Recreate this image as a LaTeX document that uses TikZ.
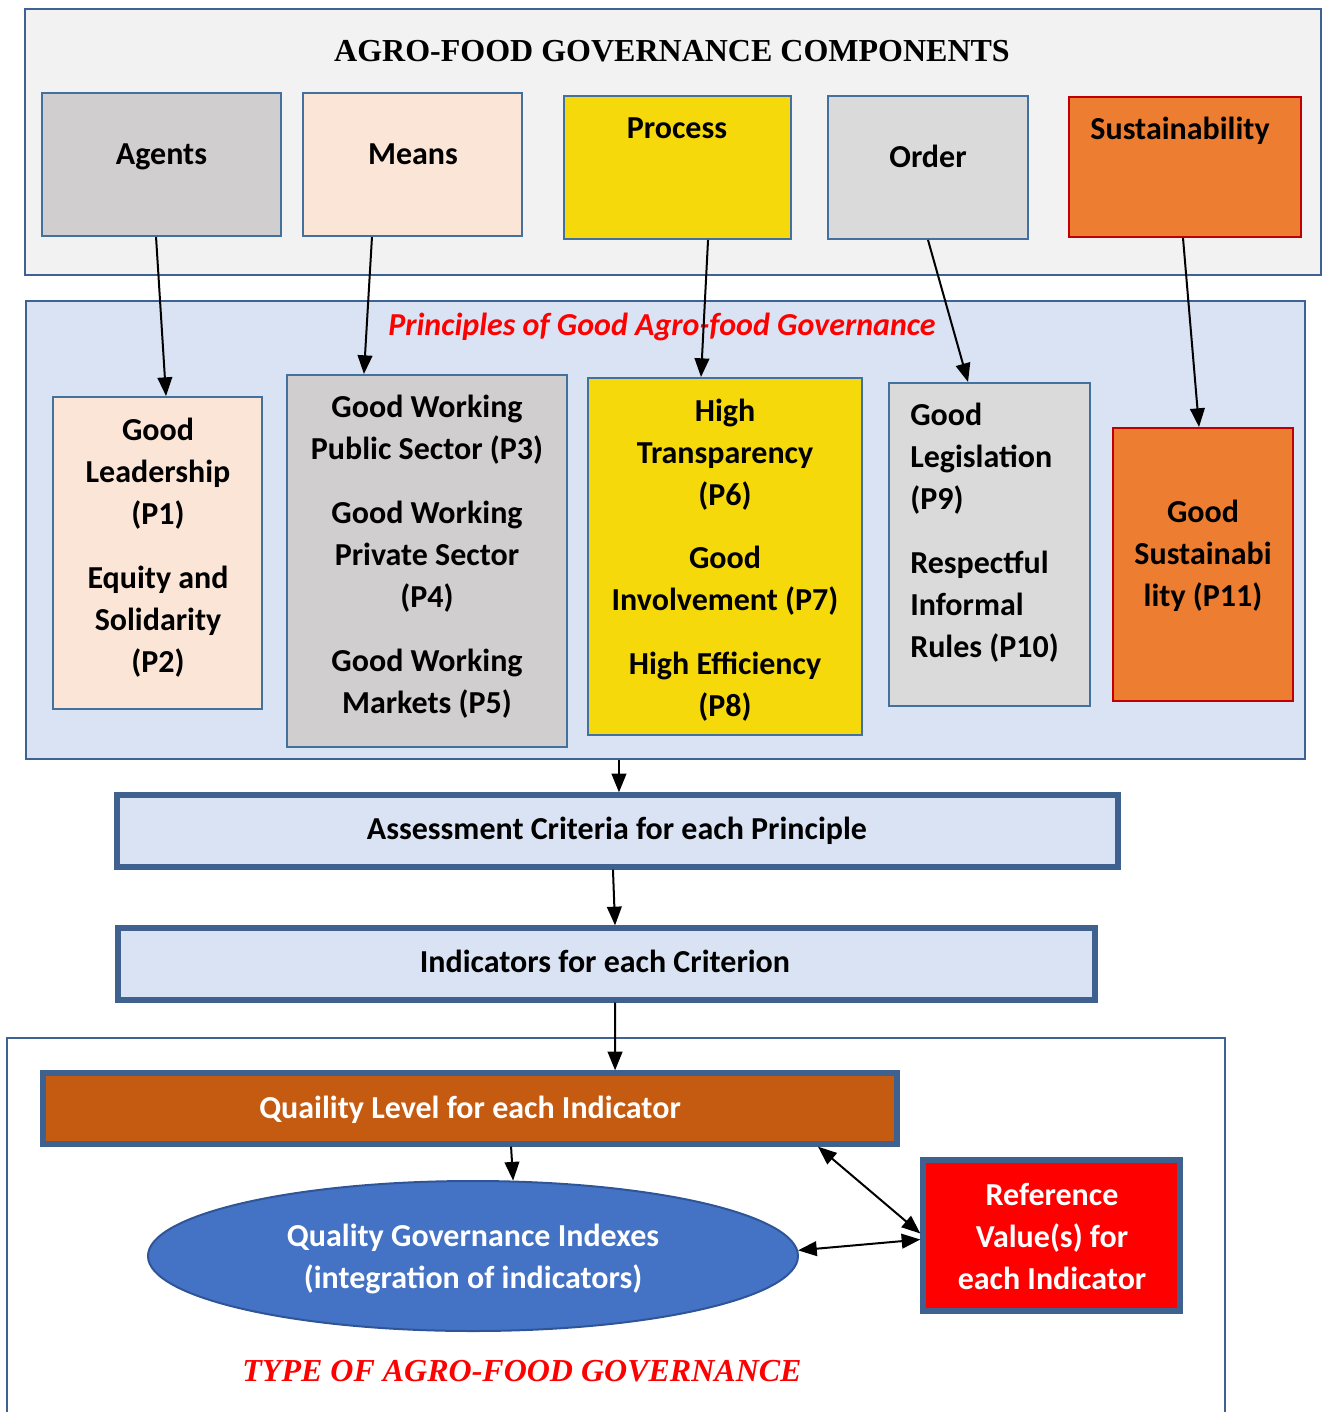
\documentclass[tikz,border=0pt]{standalone}
\usepackage{fontspec}
\setmainfont{Carlito}
\newfontfamily\titlefont{Liberation Serif}
\usetikzlibrary{arrows.meta,fit,shapes.geometric}

\definecolor{panelgray}{HTML}{F2F2F2}
\definecolor{panelblue}{HTML}{DAE3F3}
\definecolor{boxline}{HTML}{41719C}
\definecolor{panelline}{HTML}{3F6294}
\definecolor{thickline}{HTML}{3E6190}
\definecolor{agentgray}{HTML}{D0CECE}
\definecolor{peach}{HTML}{FBE5D6}
\definecolor{sunyellow}{HTML}{F5D90B}
\definecolor{lightgray}{HTML}{DADADA}
\definecolor{sustorange}{HTML}{ED7D31}
\definecolor{darkred}{HTML}{C00000}
\definecolor{rust}{HTML}{C55A11}
\definecolor{ellblue}{HTML}{4472C4}
\definecolor{ellline}{HTML}{2F5597}
\definecolor{refred}{HTML}{FF0000}

\tikzset{
  panel/.style={draw=panelline, line width=1.8pt, inner sep=0pt},
  box/.style={draw=boxline, line width=1.5pt, inner sep=0pt},
  thickbox/.style={draw=thickline, line width=4pt, inner sep=0pt},
  txt/.style={inner sep=0pt, align=center},
  conn/.style={line width=1.5pt, -{Triangle[length=14pt,width=11pt]}},
  biconn/.style={line width=1.5pt, {Triangle[length=14pt,width=11pt]}-{Triangle[length=14pt,width=11pt]}},
}

\begin{document}
\begin{tikzpicture}[x=0.75pt, y=-0.75pt, font=\fontsize{24}{31.5}\selectfont\bfseries]
\useasboundingbox (0,0) rectangle (1329,1412);

% ---- Components panel ----
\node[panel, fill=panelgray, fit={(25,9) (1321,275)}] (comp) {};
\node[txt, anchor=base, font=\fontsize{24}{28}\selectfont\titlefont\bfseries] (compT) at (672,62) {AGRO-FOOD GOVERNANCE COMPONENTS};

\node[box, fill=agentgray, fit={(42,93) (281,236)}] (agents) {};
\node[txt, anchor=base] (agentsT) at (161.5,165) {Agents};
\node[box, fill=peach, fit={(303,93) (522,236)}] (means) {};
\node[txt, anchor=base] (meansT) at (413,165) {Means};
\node[box, fill=sunyellow, fit={(564,96) (791,239)}] (process) {};
\node[txt, anchor=base] (processT) at (677,139) {Process};
\node[box, fill=lightgray, fit={(828,96) (1028,239)}] (order) {};
\node[txt, anchor=base] (orderT) at (928,168) {Order};
\node[box, draw=darkred, fill=sustorange, fit={(1069,97) (1301,237)}] (sust) {};
\node[txt, anchor=base] (sustT) at (1180,140) {Sustainability};

% ---- Principles panel ----
\node[panel, fill=panelblue, fit={(26,301) (1305,759)}] (princ) {};
\node[txt, anchor=base, text=red, font=\fontsize{24}{28}\selectfont\bfseries\itshape] (princT) at (662,335) {Principles of Good Agro-food Governance};

\node[box, fill=peach, fit={(53,397) (262,709)}] (p1) {};
\node[txt] (p1T) at (158,548) {Good\\Leadership\\(P1)\\[16.5pt]Equity and\\Solidarity\\(P2)};
\node[box, fill=agentgray, fit={(287,375) (567,747)}] (p3) {};
\node[txt] (p3T) at (427,557) {Good Working\\Public Sector (P3)\\[16.5pt]Good Working\\Private Sector\\(P4)\\[16.5pt]Good Working\\Markets (P5)};
\node[box, fill=sunyellow, fit={(588,378) (862,735)}] (p6) {};
\node[txt] (p6T) at (725,560.5) {High\\Transparency\\(P6)\\[16pt]Good\\Involvement (P7)\\[16.5pt]High Efficiency\\(P8)};
\node[box, fill=lightgray, fit={(889,383) (1090,706)}] (p9) {};
\node[txt, align=left, anchor=west] (p9T) at (910,533) {Good\\Legislation\\(P9)\\[16.5pt]Respectful\\Informal\\Rules (P10)};
\node[box, draw=darkred, fill=sustorange, fit={(1113,428) (1293,701)}] (p11) {};
\node[txt] (p11T) at (1203,556) {Good\\Sustainabi\\lity (P11)};

% ---- Assessment chain ----
\node[thickbox, fill=panelblue, fit={(117,795) (1118,867)}] (assess) {};
\node[txt, anchor=base] (assessT) at (617,839) {Assessment Criteria for each Principle};
\node[thickbox, fill=panelblue, fit={(118,928) (1095,1000)}] (indic) {};
\node[txt, anchor=base] (indicT) at (605,972) {Indicators for each Criterion};

% ---- Governance type frame ----
\draw[draw=panelline, line width=1.2pt] (7,1440) -- (7,1038) -- (1225,1038) -- (1225,1440);
\node[thickbox, fill=rust, fit={(43,1073) (897,1144)}] (quality) {};
\node[txt, anchor=base, text=white] (qualityT) at (470,1118) {Quaility Level for each Indicator};
\node[ellipse, draw=ellline, line width=1.5pt, fill=ellblue, minimum width=650*0.75pt, minimum height=150*0.75pt, inner sep=0pt] (ell) at (473,1256) {};
\node[txt, text=white] (ellT) at (473,1259) {Quality Governance Indexes\\(integration of indicators)};
\node[thickbox, fill=refred, fit={(923,1160) (1180,1311)}] (ref) {};
\node[txt, text=white] (refT) at (1052,1236) {Reference\\Value(s) for\\each Indicator};
\node[txt, anchor=base, text=red, font=\fontsize{24}{28}\selectfont\titlefont\bfseries\itshape] (typeT) at (522,1381) {TYPE OF AGRO-FOOD GOVERNANCE};

% ---- Connectors ----
\draw[conn] ([xshift=-4.1pt]agents.south) -- ([xshift=6.4pt]p1.north);
\draw[conn] ([xshift=-30.4pt]means.south) -- ([xshift=-47.3pt]p3.north);
\draw[conn] ([xshift=22.9pt]process.south) -- ([xshift=-18pt]p6.north);
\draw[conn] (order.south) -- ([xshift=-16.1pt]p9.north);
\draw[conn] ([xshift=-1.5pt]sust.south) -- ([xshift=-3pt]p11.north);
\draw[conn] ([xshift=-34.9pt]princ.south) -- ([xshift=1.1pt]assess.north);
\draw[conn] ([xshift=-3.4pt]assess.south) -- ([xshift=6.4pt]indic.north);
\draw[conn] ([xshift=6.4pt]indic.south) -- ([xshift=108.8pt]quality.north);
\draw[conn] ([xshift=30.8pt]quality.south) -- (ell.62.5);
\draw[biconn] ([xshift=261pt]quality.south) -- ([yshift=1.5pt]ref.west);
\draw[biconn] (ell.1.5) -- ([yshift=-3pt]ref.west);
\end{tikzpicture}
\end{document}
